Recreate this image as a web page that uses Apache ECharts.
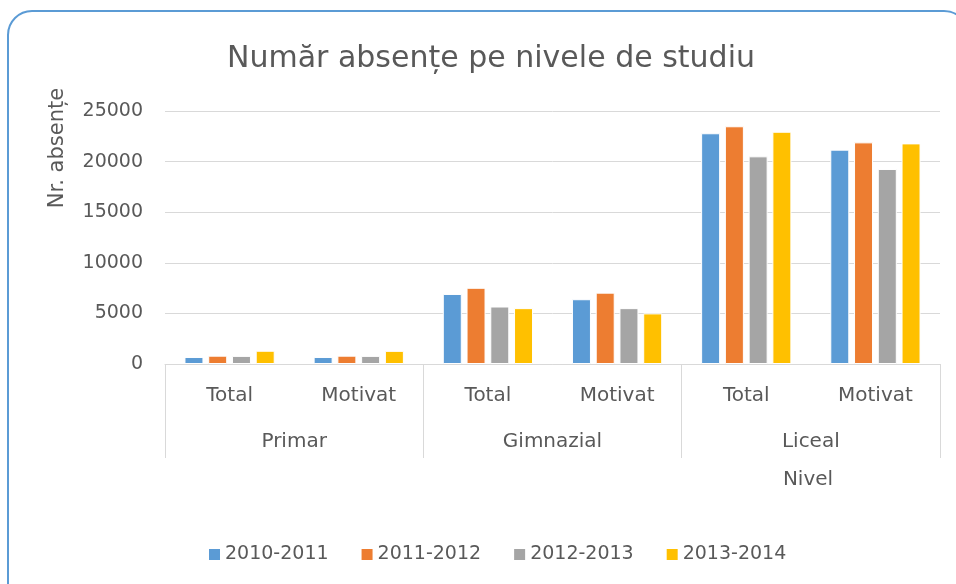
<!DOCTYPE html>
<html>
<head>
<meta charset="utf-8">
<script src="https://cdn.jsdelivr.net/npm/echarts@6/dist/echarts.min.js"></script>
<style>html,body{margin:0;padding:0;background:#fff}#c{width:956px;height:584px}</style>
</head>
<body>
<div id="c"></div>
<script>
const categories = ['Total', 'Motivat', 'Total', 'Motivat', 'Total', 'Motivat'];
const groups = ['Primar', 'Gimnazial', 'Liceal'];
const seriesNames = ['2010-2011', '2011-2012', '2012-2013', '2013-2014'];
const s2010 = [690, 690, 6920, 6400, 22800, 21180];
const s2011 = [820, 820, 7530, 7050, 23490, 21900];
const s2012 = [800, 800, 5680, 5520, 20520, 19270];
const s2013 = [1310, 1300, 5520, 5000, 22950, 21800];
const yTicks = [0, 5000, 10000, 15000, 20000, 25000];
const title = 'Număr absențe pe nivele de studiu';
const yName = 'Nr. absențe';
const xName = 'Nivel';

const colors = ['#5b9bd5', '#ed7d31', '#a5a5a5', '#ffc000'];
const FONT = 'DejaVu Sans';
const TXT = '#595959';
const values = [s2010, s2011, s2012, s2013];

const chart = echarts.init(document.getElementById('c'));
chart.setOption({
  animation: false,
  color: colors,
  textStyle: { fontFamily: FONT },
  title: {
    text: title, left: 222, top: 39,
    textStyle: { fontFamily: FONT, fontSize: 30, fontWeight: 'normal', color: TXT }
  },
  legend: {
    data: seriesNames, left: 202, top: 540,
    icon: 'rect', itemWidth: 13, itemHeight: 13, itemGap: 31,
    textStyle: { fontFamily: FONT, fontSize: 19, color: TXT, padding: [0, 0, 0, -1] }
  },
  grid: { left: 165, right: 16, top: 111, bottom: 220, containLabel: false },
  xAxis: [
    {
      type: 'category', data: categories, position: 'bottom',
      axisLine: { show: true, lineStyle: { color: '#d9d9d9', width: 1 } },
      axisTick: { show: false },
      axisLabel: { margin: 22, fontFamily: FONT, fontSize: 20, color: TXT }
    },
    {
      type: 'category', data: groups, position: 'bottom',
      axisLine: { show: false },
      axisTick: { show: true, length: 94, lineStyle: { color: '#d9d9d9', width: 1 } },
      axisLabel: { margin: 68, fontFamily: FONT, fontSize: 20, color: TXT }
    }
  ],
  yAxis: {
    type: 'value', min: yTicks[0], max: yTicks[yTicks.length - 1], interval: yTicks[1] - yTicks[0],
    axisLine: { show: false }, axisTick: { show: false },
    splitLine: { lineStyle: { color: '#d9d9d9', width: 1 } },
    axisLabel: { margin: 22, fontFamily: FONT, fontSize: 19, color: TXT, formatter: v => String(v) }
  },
  series: seriesNames.map((n, i) => ({
    name: n, type: 'bar', xAxisIndex: 0, data: values[i],
    barWidth: 19, barGap: '25%',
    itemStyle: { borderColor: '#ffffff', borderWidth: 1 }
  })),
  graphic: [
    {
      type: 'rect', silent: true, z: -1,
      shape: { x: 8, y: 11, width: 960, height: 600, r: 24 },
      style: { fill: 'none', stroke: '#5b9bd5', lineWidth: 2 }
    },
    {
      type: 'text', x: 58, y: 148, rotation: Math.PI / 2,
      style: { text: yName, fontFamily: FONT, fontSize: 21, fill: TXT, align: 'center', verticalAlign: 'middle' }
    },
    {
      type: 'text', x: 808, y: 480,
      style: { text: xName, fontFamily: FONT, fontSize: 20, fill: TXT, align: 'center', verticalAlign: 'middle' }
    }
  ]
});
</script>
</body>
</html>
